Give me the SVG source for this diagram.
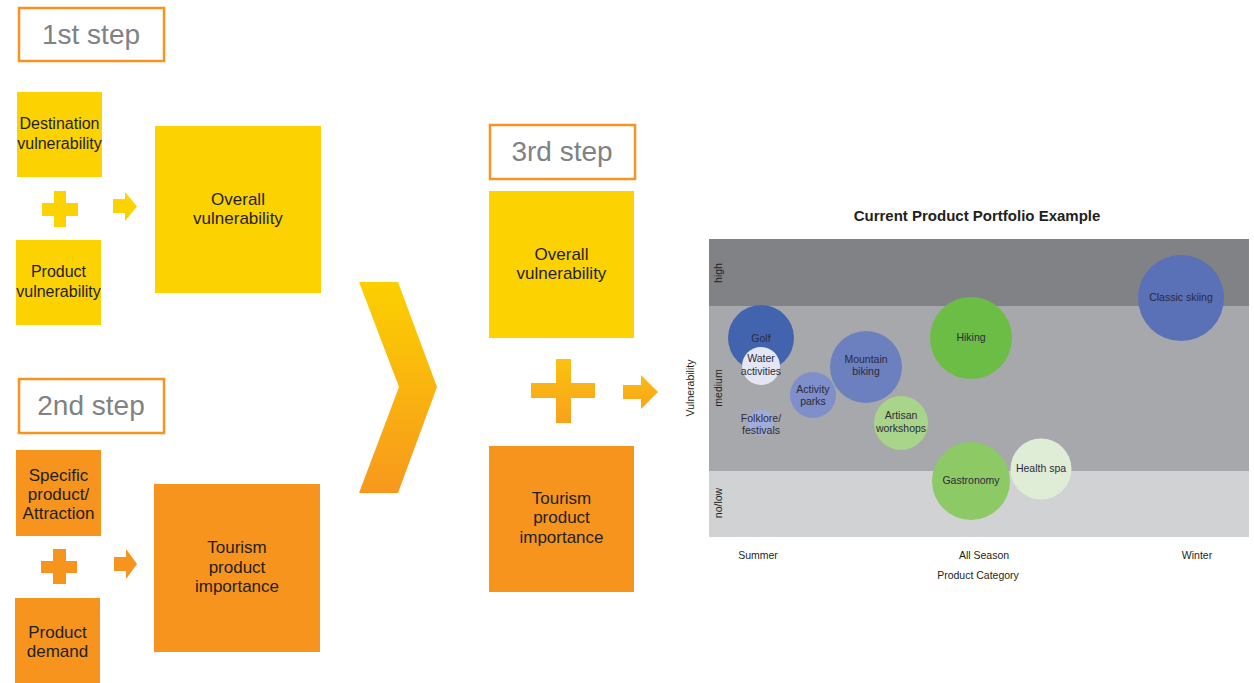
<svg xmlns="http://www.w3.org/2000/svg" width="1254" height="683" viewBox="0 0 1254 683">
<defs>
<linearGradient id="gv" x1="0" y1="0" x2="0" y2="1">
<stop offset="0" stop-color="#FCD000"/>
<stop offset="1" stop-color="#F7981D"/>
</linearGradient>
<linearGradient id="gp" gradientUnits="userSpaceOnUse" x1="0" y1="359" x2="0" y2="423">
<stop offset="0" stop-color="#FBC20F"/>
<stop offset="1" stop-color="#F8A11C"/>
</linearGradient>
<linearGradient id="ga" gradientUnits="userSpaceOnUse" x1="0" y1="375" x2="0" y2="409">
<stop offset="0" stop-color="#FBBB12"/>
<stop offset="1" stop-color="#F8A41B"/>
</linearGradient>
</defs>
<style>
.step{fill:#fff;stroke:#F7941D;stroke-width:2.5}
.steptxt{font-family:"Liberation Sans",Arial,sans-serif;font-size:28px;fill:#808285;text-anchor:middle}
.y{fill:#FCD200}
.o{fill:#F7941D}
.bt{font-family:"Liberation Sans",Arial,sans-serif;font-size:16px;fill:#231F20;text-anchor:middle}
.bt2{font-family:"Liberation Sans",Arial,sans-serif;font-size:17px;fill:#231F20;text-anchor:middle}
.ct{font-family:"Liberation Sans",Arial,sans-serif;font-size:10.5px;fill:#2B2B3A;text-anchor:middle}
.ax{font-family:"Liberation Sans",Arial,sans-serif;font-size:10.5px;fill:#231F20;text-anchor:middle}
</style>
<rect width="1254" height="683" fill="#fff"/>

<g id="step1">
<rect class="step" x="19" y="8" width="145" height="53"/>
<text class="steptxt" x="91" y="44">1st step</text>
</g>
<g id="destination-vulnerability">
<rect class="y" x="17" y="92" width="85" height="85"/>
<text class="bt" x="59.5" y="129">Destination</text>
<text class="bt" x="59.5" y="149">vulnerability</text>
</g>
<g id="plus1">
<path class="y" d="M42 203H54V191H66V203H78V216H66V227H54V216H42Z"/>
</g>
<g id="product-vulnerability">
<rect class="y" x="16" y="240" width="85" height="85"/>
<text class="bt" x="58.5" y="277">Product</text>
<text class="bt" x="58.5" y="297">vulnerability</text>
</g>
<g id="overall-vulnerability-1">
<rect class="y" x="155" y="126" width="166" height="167"/>
<text class="bt2" x="238" y="205">Overall</text>
<text class="bt2" x="238" y="224">vulnerability</text>
</g>

<g id="step2">
<rect class="step" x="19" y="379" width="145" height="54"/>
<text class="steptxt" x="91" y="415">2nd step</text>
</g>
<g id="specific-product">
<rect class="o" x="16" y="450" width="85" height="86"/>
<text class="bt2" x="58.5" y="481">Specific</text>
<text class="bt2" x="58.5" y="500">product/</text>
<text class="bt2" x="58.5" y="519">Attraction</text>
</g>
<g id="plus2">
<path class="o" d="M41 561H53V549H66V561H77V573H66V584H53V573H41Z"/>
</g>
<g id="product-demand">
<rect class="o" x="15" y="598" width="85" height="85"/>
<text class="bt2" x="57.5" y="638">Product</text>
<text class="bt2" x="57.5" y="657">demand</text>
</g>
<g id="tourism-importance-1">
<rect class="o" x="154" y="484" width="166" height="168"/>
<text class="bt2" x="237" y="553">Tourism</text>
<text class="bt2" x="237" y="573">product</text>
<text class="bt2" x="237" y="592">importance</text>
</g>

<g id="chevron">
<path fill="url(#gv)" d="M359 282H398L437 387L398 493H359L399 387Z"/>
</g>

<g id="step3">
<rect class="step" x="490" y="125" width="145" height="54"/>
<text class="steptxt" x="562" y="161">3rd step</text>
</g>
<g id="overall-vulnerability-3">
<rect class="y" x="489" y="191" width="145" height="147"/>
<text class="bt2" x="561.5" y="260">Overall</text>
<text class="bt2" x="561.5" y="279">vulnerability</text>
</g>
<g id="plus3">
<path fill="url(#gp)" d="M531 383H556V359H571V383H595V398H571V423H556V398H531Z"/>
</g>
<g id="tourism-importance-3">
<rect class="o" x="489" y="446" width="145" height="146"/>
<text class="bt2" x="561.5" y="504">Tourism</text>
<text class="bt2" x="561.5" y="523">product</text>
<text class="bt2" x="561.5" y="543">importance</text>
</g>

<g id="connectors">
<path class="y" d="M113 199H125V192L137 206.5L125 221V213H113Z"/>
<path class="o" d="M114 557H126V549L137 564L126 579V571H114Z"/>
<path fill="url(#ga)" d="M623 385H641V375L658 392L641 409V399H623Z"/>
</g>

<g id="chart">
<text x="977" y="221" font-family="Liberation Sans,Arial,sans-serif" font-size="15" font-weight="bold" fill="#231F20" text-anchor="middle">Current Product Portfolio Example</text>
<rect x="709" y="239" width="540" height="67" fill="#818285"/>
<rect x="709" y="306" width="540" height="165" fill="#A7A8AB"/>
<rect x="709" y="471" width="540" height="66" fill="#D1D2D4"/>
<text class="ax" transform="translate(722 273) rotate(-90)">high</text>
<text class="ax" transform="translate(722 388) rotate(-90)">medium</text>
<text class="ax" transform="translate(722 503) rotate(-90)">no/low</text>
<text class="ax" transform="translate(694 388) rotate(-90)">Vulnerability</text>
<text class="ax" x="758" y="559">Summer</text>
<text class="ax" x="984" y="559">All Season</text>
<text class="ax" x="1197" y="559">Winter</text>
<text class="ax" x="978" y="579">Product Category</text>
</g>

<g id="golf"><circle cx="761" cy="338" r="33" fill="#4263AE"/><text class="ct" x="761" y="342">Golf</text></g>
<g id="water-activities"><circle cx="761" cy="366" r="19" fill="#E4E6F3"/><text class="ct" x="761" y="362">Water</text><text class="ct" x="761" y="375">activities</text></g>
<g id="mountain-biking"><circle cx="866" cy="367" r="36" fill="#6C7FBF"/><text class="ct" x="866" y="363">Mountain</text><text class="ct" x="866" y="375">biking</text></g>
<g id="activity-parks"><circle cx="813" cy="395" r="23" fill="#7F8FCB"/><text class="ct" x="813" y="393">Activity</text><text class="ct" x="813" y="405">parks</text></g>
<g id="folklore"><circle cx="761" cy="423" r="13" fill="#A3ACD9"/><text class="ct" x="761" y="422">Folklore/</text><text class="ct" x="761" y="434">festivals</text></g>
<g id="artisan"><circle cx="901" cy="423" r="27" fill="#A8D58A"/><text class="ct" x="901" y="419">Artisan</text><text class="ct" x="901" y="432">workshops</text></g>
<g id="hiking"><circle cx="971" cy="338" r="41" fill="#6CBD45"/><text class="ct" x="971" y="341">Hiking</text></g>
<g id="gastronomy"><circle cx="971" cy="481" r="39" fill="#8DC965"/><text class="ct" x="971" y="484">Gastronomy</text></g>
<g id="health-spa"><circle cx="1041" cy="469" r="30.5" fill="#E0EDD6"/><text class="ct" x="1041" y="472">Health spa</text></g>
<g id="classic-skiing"><circle cx="1181" cy="298" r="43" fill="#5A70B7"/><text class="ct" x="1181" y="301">Classic skiing</text></g>
</svg>
